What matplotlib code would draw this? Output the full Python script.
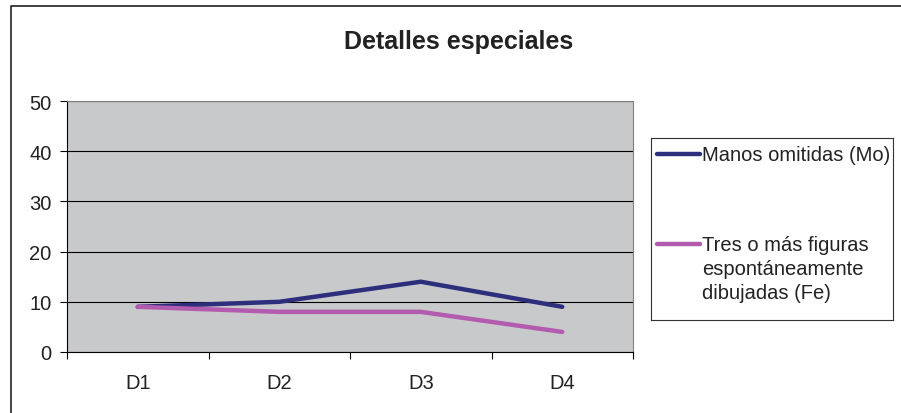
import matplotlib.pyplot as plt
from matplotlib.lines import Line2D

plt.rcParams['font.family'] = ['Liberation Sans', 'DejaVu Sans']

categories = ['D1', 'D2', 'D3', 'D4']
manos_omitidas = [9, 10, 14, 9]
tres_figuras = [9, 8, 8, 4]
labels = ['Manos omitidas (Mo)', 'Tres o más figuras\nespontáneamente\ndibujadas (Fe)']
colors = ['#2E2F7C', '#B35BAE']

W, H = 901, 414
fig = plt.figure(figsize=(W / 100, H / 100), dpi=100)
fig.patch.set_facecolor('white')

# outer chart border (only top and left fall inside the picture)
fig.add_artist(Line2D([11 / W, 11 / W, 1], [0, 1 - 7 / H, 1 - 7 / H],
                      transform=fig.transFigure, color='#333333', linewidth=1.3))

ax = fig.add_axes([67 / W, (H - 353) / H, 566 / W, 251 / H])
ax.set_facecolor('#C8C9CB')
x = [i + 0.5 for i in range(len(categories))]
ax.plot(x, manos_omitidas, color=colors[0], linewidth=3.2, solid_capstyle='round')
ax.plot(x, tres_figuras, color=colors[1], linewidth=3.2, solid_capstyle='round')

ax.set_xlim(0, len(categories))
ax.set_ylim(0, 50)
ax.set_yticks(range(0, 51, 10))
ax.yaxis.grid(True, color='black', linewidth=0.8)
ax.set_axisbelow(True)
ax.set_xticks(range(len(categories) + 1))
ax.set_xticklabels([])
ax.set_xticks(x, minor=True)
ax.set_xticklabels(categories, minor=True)
ax.tick_params(axis='x', which='major', length=5, direction='out', width=0.8)
ax.tick_params(axis='x', which='minor', length=0, pad=15, labelsize=14.5, labelcolor='#222222')
ax.tick_params(axis='y', length=5, width=0.8, pad=6, labelsize=14.5, labelcolor='#222222')
for side in ['top', 'right']:
    ax.spines[side].set_color('#808080')
for side in ['left', 'bottom']:
    ax.spines[side].set_color('black')
    ax.spines[side].set_linewidth(0.8)

fig.text(459 / W, 1 - 42 / H, 'Detalles especiales', ha='center', va='center',
         fontsize=18, fontweight='bold', color='#222222')

# legend box
lg = fig.add_axes([651 / W, (H - 321) / H, 242 / W, 182 / H])
lg.set_xlim(0, 242)
lg.set_ylim(182, 0)
lg.set_xticks([])
lg.set_yticks([])
for s in lg.spines.values():
    s.set_linewidth(0.8)
    s.set_color('#333333')
for yy, c, lab in zip([16, 106], colors, labels):
    lg.add_line(Line2D([6, 49], [yy, yy], color=c, linewidth=3.2, solid_capstyle='round'))
    lg.text(51, yy - 9, lab, ha='left', va='top', fontsize=14.5, linespacing=1.32,
            color='#222222')

fig.savefig('out.png', dpi=100)
